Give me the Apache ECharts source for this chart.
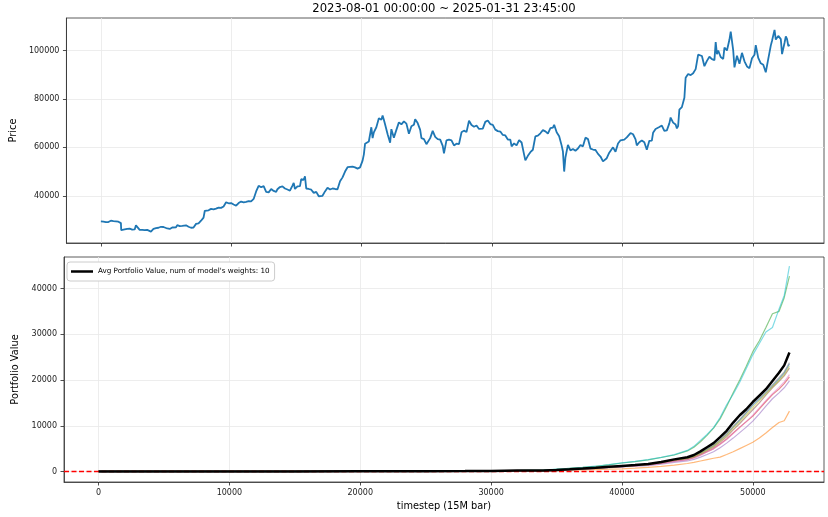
<!DOCTYPE html>
<html>
<head>
    <meta charset="utf-8" />
    <title>Price / Portfolio Value</title>
    <script src="https://cdn.jsdelivr.net/npm/echarts@6/dist/echarts.min.js"></script>
    <style>html,body{margin:0;padding:0;background:#fff;}</style>
</head>
<body>
    <div id="chart" style="width:828px;height:517px;"></div>
    <script type="text/javascript">
        // price panel: timestep (15M bar) -> close
        var priceStep = [
            0,192,384,576,768,960,1152,1344,1440,1536,
            1560,1632,1824,2016,2208,2400,2592,2688,2784,2976,
            3168,3360,3552,3840,4032,4224,4416,4608,4800,5088,
            5280,5472,5760,5856,6048,6240,6528,6720,6912,7104,
            7296,7488,7680,7776,7872,7968,8064,8256,8448,8640,
            8832,9024,9216,9408,9600,9792,9984,10176,10368,10560,
            10752,10944,11136,11328,11520,11712,11904,12096,12288,12480,
            12576,12672,12864,13056,13248,13440,13536,13728,13920,14112,
            14304,14496,14688,14784,14880,15072,15264,15360,15552,15648,
            15744,15936,16128,16320,16512,16704,16800,16992,17184,17376,
            17568,17760,17952,18144,18336,18528,18720,18912,19104,19296,
            19488,19680,19872,20064,20160,20256,20352,20544,20736,20832,
            20928,21120,21312,21504,21600,21696,21792,21984,22176,22272,
            22464,22656,22848,23040,23232,23424,23616,23808,24000,24096,
            24288,24480,24576,24768,24960,25056,25248,25440,25632,25824,
            26016,26208,26304,26496,26688,26880,27072,27264,27456,27648,
            27840,28032,28224,28416,28608,28800,28992,29280,29472,29664,
            29856,30048,30240,30432,30624,30816,31008,31200,31392,31488,
            31680,31872,32064,32256,32448,32544,32736,32928,33120,33312,
            33504,33696,33888,34080,34272,34464,34656,34752,34944,35136,
            35328,35424,35520,35616,35808,36000,36192,36384,36576,36768,
            36960,37152,37344,37536,37728,37920,38112,38304,38496,38592,
            38784,38976,39264,39456,39648,39840,40128,40320,40608,40800,
            40992,41088,41280,41472,41664,41856,42048,42240,42336,42528,
            42816,43008,43200,43392,43584,43680,43872,44064,44160,44256,
            44352,44544,44736,44832,45024,45216,45408,45600,45792,45888,
            46080,46272,46464,46656,46848,47040,47136,47232,47328,47520,
            47712,47808,48000,48192,48288,48480,48576,48768,48960,49152,
            49344,49536,49728,49920,50112,50208,50400,50592,50784,50976,
            51168,51360,51456,51648,51744,51936,52128,52224,52416,52512,
            52608,52704,52799
        ];
        var priceValue = [
            29400,29300,29100,29150,29700,29500,29400,29300,29100,28700,
            25800,26200,26100,26300,26400,26000,26100,27800,27200,25900,
            25900,25800,25900,25200,26300,26600,26800,27200,27100,26500,
            26300,26900,27000,27900,27500,27600,27800,27200,26800,26900,
            28400,28600,29700,30000,31000,33800,34400,34000,34600,34400,
            34700,35100,35000,35600,37300,36900,37000,36400,35900,37000,
            37600,37300,37500,37800,37700,38700,41800,44100,43500,44000,
            43800,41600,41400,42800,42000,41600,42700,43600,43900,43000,
            42600,42100,44200,45300,42800,43900,44000,46900,46600,48000,
            43000,42800,42500,41200,41600,39800,39500,40000,41800,43300,
            42600,43000,42800,42700,46000,47600,50000,51800,51900,52000,
            51700,51200,51700,54500,57000,61500,62000,62400,68300,63800,
            66200,68300,72000,71400,73100,71400,69400,65400,61900,67500,
            64000,67200,70300,69500,70700,69800,65600,68700,69300,71600,
            70000,67200,63800,63400,61300,60900,63800,66800,64300,63400,
            63200,60600,57500,62900,63200,62900,60800,61500,61300,66200,
            66900,66300,71000,69200,68500,69000,67600,67700,70500,71100,
            69600,69300,67300,66700,66500,65100,64900,63200,63200,60400,
            61600,60800,63000,62000,57000,54600,56500,58000,59000,64500,
            64800,65800,67100,66600,65700,67900,68100,69300,66200,64600,
            60700,58300,50000,55800,61000,58700,59300,58600,59500,61000,
            60400,64000,63400,59500,59100,58900,57300,56200,54200,53900,
            55500,57800,60000,58200,61600,62900,63200,64100,65900,65400,
            63300,60800,62100,62800,62100,59000,62700,62800,66000,67600,
            68400,69000,66800,67000,69900,72300,70200,69400,67800,68800,
            75600,76600,80500,88700,90300,89800,90600,92300,98300,99000,
            97700,93500,95700,97400,96400,96000,103500,98500,100000,97300,
            96500,101200,100000,104500,107800,100000,93000,97800,94500,99000,
            95500,93400,92700,96800,98200,102200,96900,94700,94100,91000,
            96500,102000,104000,108500,104500,106000,104700,98500,103200,105800,
            104700,101800,102400
        ];

        // portfolio panel: one line per model's weights + the average
        var pvStep = [0,5000,10000,15000,20000,25000,28000,30000,32000,34000,
            35000,36000,37000,38000,39000,40000,41000,42000,43000,44000,
            45000,45500,46000,46500,47000,47500,48000,48500,49000,49500,
            50000,50500,51000,51500,52000,52400,52799];
        var pvBlue   = [5,8,12,17,28,55,85,120,170,190, 280,420,580,760,950,1150,1350,1550,1950,2500, 2900,3300,4000,4800,5600,6800,8100,9700,11200,12800, 14500,15800,17200,18700,20200,21500,23500];
        var pvOrange = [5,7,10,14,20,35,55,70,100,150, 200,280,350,420,500,590,720,880,1100,1400, 1750,2000,2300,2600,2900,3150,3700,4300,5000,5700, 6400,7300,8400,9600,10700,11100,13200];
        var pvGreen  = [5,8,12,18,29,68,108,155,215,290, 480,680,880,1120,1450,1850,2150,2550,3050,3600, 4500,5300,6500,7900,9500,11500,14200,17200,20000,23000, 26200,28600,31500,34500,35000,38000,42700];
        var pvRed    = [5,8,11,16,26,50,80,110,160,180, 260,390,540,700,880,1060,1250,1420,1780,2250, 2600,3000,3600,4300,5000,6000,7100,8400,9700,10900, 12100,13700,15300,16800,18000,19200,20700];
        var pvPurple = [5,7,11,15,25,48,75,105,150,170, 240,360,500,650,820,980,1150,1300,1600,2000, 2300,2650,3150,3700,4300,5200,6200,7300,8500,9700, 11000,12600,14300,15900,17200,18300,19800];
        var pvBrown  = [5,8,12,16,27,52,82,115,165,185, 270,400,560,730,910,1100,1300,1480,1870,2380, 2750,3150,3800,4550,5300,6400,7600,9100,10500,12000, 13500,15000,16700,18300,19700,20900,22600];
        var pvPink   = [5,8,11,16,26,50,78,110,160,175, 255,385,530,690,870,1050,1230,1400,1760,2220, 2580,2950,3550,4250,4950,5900,7000,8300,9600,10900, 12300,13900,15500,17000,18400,19600,21200];
        var pvGray   = [5,8,12,17,28,56,86,122,172,195, 285,430,590,770,960,1160,1370,1570,1980,2540, 2950,3350,4100,4900,5750,6950,8300,9900,11400,13000, 14800,16100,17500,19000,20500,21800,23800];
        var pvOlive  = [5,8,12,17,28,54,84,118,168,188, 278,415,575,750,940,1130,1330,1520,1920,2450, 2850,3250,3950,4700,5500,6650,7900,9500,10900,12400, 14000,15500,17000,18500,19900,21200,23000];
        var pvCyan   = [5,8,12,18,30,70,110,160,220,300, 500,700,900,1150,1500,1900,2200,2600,3100,3700, 4600,5500,6800,8100,9600,11800,14600,16900,19500,22500, 25500,28000,30500,31500,35500,38500,44900];
        var pvAvg    = [5,8,12,18,30,60,90,130,190,230, 320,470,640,820,1020,1220,1420,1650,2080,2650, 3100,3600,4400,5300,6200,7500,8900,10700,12300,13600, 15200,16600,18000,19800,21600,23200,26000];

        var stepTicks = [0, 10000, 20000, 30000, 40000, 50000];
        var priceTicks = [40000, 60000, 80000, 100000];
        var pvTicks = [0, 10000, 20000, 30000, 40000];

        var avgName = "Avg Portfolio Value, num of model's weights: 10";
        var titleText = '2023-08-01 00:00:00 ~ 2025-01-31 23:45:00';
        var modelValues = [pvBlue, pvOrange, pvGreen, pvRed, pvPurple, pvBrown, pvPink, pvGray, pvOlive, pvCyan];
        var modelColors = ['#1f77b4', '#ff7f0e', '#2ca02c', '#d62728', '#9467bd',
                           '#8c564b', '#e377c2', '#7f7f7f', '#bcbd22', '#17becf'];

        var FONT = 'DejaVu Sans';

        function pairs(xs, ys) {
            return xs.map(function (x, i) { return [x, ys[i]]; });
        }
        function plain(v) { return String(v); }

        var splitLine = { show: true, lineStyle: { color: '#e8e8e8', width: 0.8 } };
        var axisLine = { show: true, onZero: false, lineStyle: { color: '#333', width: 0.8 } };
        var nameStyle = { fontSize: 9.8, color: '#000', fontFamily: FONT };
        function ticks(values) {
            return { show: true, length: 3.5, customValues: values, lineStyle: { color: '#222', width: 0.8 } };
        }
        function labels(values, show) {
            return { show: show, customValues: values, formatter: plain, margin: 7,
                     fontSize: 8, color: '#222', fontFamily: FONT };
        }

        var series = [{
            type: 'line',
            xAxisIndex: 0,
            yAxisIndex: 0,
            data: pairs(priceStep, priceValue),
            symbol: 'none',
            silent: true,
            lineStyle: { color: '#1f77b4', width: 1.8 }
        }];
        modelValues.forEach(function (vals, i) {
            series.push({
                type: 'line',
                xAxisIndex: 1,
                yAxisIndex: 1,
                data: pairs(pvStep, vals),
                symbol: 'none',
                silent: true,
                z: 2,
                lineStyle: { color: modelColors[i], width: 1.2, opacity: 0.55 }
            });
        });
        series.push({
            name: avgName,
            type: 'line',
            xAxisIndex: 1,
            yAxisIndex: 1,
            data: pairs(pvStep, pvAvg),
            symbol: 'none',
            silent: true,
            z: 10,
            color: '#000',
            lineStyle: { color: '#000', width: 2.5 },
            markLine: {
                silent: true,
                symbol: 'none',
                z: 5,
                label: { show: false },
                lineStyle: { color: '#ff0000', type: [5, 2.5], width: 1.3 },
                data: [{ yAxis: 0 }]
            }
        });

        var chart = echarts.init(document.getElementById('chart'));
        var option = {
            animation: false,
            backgroundColor: '#fff',
            textStyle: { fontFamily: FONT },
            graphic: [{
                type: 'text',
                x: 444,
                y: 3,
                style: { text: titleText, fontSize: 11.6, fontFamily: FONT, fill: '#000',
                         align: 'center', verticalAlign: 'top' }
            }],
            legend: {
                data: [{ name: avgName, icon: 'rect' }],
                left: 67,
                top: 262,
                padding: [6, 5, 6, 4],
                itemWidth: 22,
                itemHeight: 2.5,
                borderColor: '#cccccc',
                borderWidth: 1,
                borderRadius: 3,
                backgroundColor: '#fff',
                selectedMode: false,
                itemStyle: { color: '#000' },
                textStyle: { fontSize: 7.2, color: '#000', fontFamily: FONT }
            },
            grid: [
                { left: 64, right: 4, top: 18, height: 225, show: true, borderColor: '#333', borderWidth: 0.8 },
                { left: 64, right: 4, top: 257, height: 225, show: true, borderColor: '#333', borderWidth: 0.8 }
            ],
            xAxis: [{
                gridIndex: 0, type: 'value', min: -2640, max: 55440,
                axisLine: axisLine, axisTick: ticks(stepTicks), axisLabel: labels(stepTicks, false),
                splitLine: splitLine
            }, {
                gridIndex: 1, type: 'value', min: -2640, max: 55440,
                name: 'timestep (15M bar)', nameLocation: 'middle', nameGap: 19,
                nameTextStyle: nameStyle,
                axisLine: axisLine, axisTick: ticks(stepTicks), axisLabel: labels(stepTicks, true),
                splitLine: splitLine
            }],
            yAxis: [{
                gridIndex: 0, type: 'value', min: 20500, max: 113400,
                name: 'Price', nameLocation: 'middle', nameGap: 47, nameRotate: 90,
                nameTextStyle: nameStyle,
                axisLine: axisLine, axisTick: ticks(priceTicks), axisLabel: labels(priceTicks, true),
                splitLine: splitLine
            }, {
                gridIndex: 1, type: 'value', min: -2300, max: 46900,
                name: 'Portfolio Value', nameLocation: 'middle', nameGap: 44, nameRotate: 90,
                nameTextStyle: nameStyle,
                axisLine: axisLine, axisTick: ticks(pvTicks), axisLabel: labels(pvTicks, true),
                splitLine: splitLine
            }],
            series: series
        };
        chart.setOption(option, true);
    </script>
</body>
</html>
